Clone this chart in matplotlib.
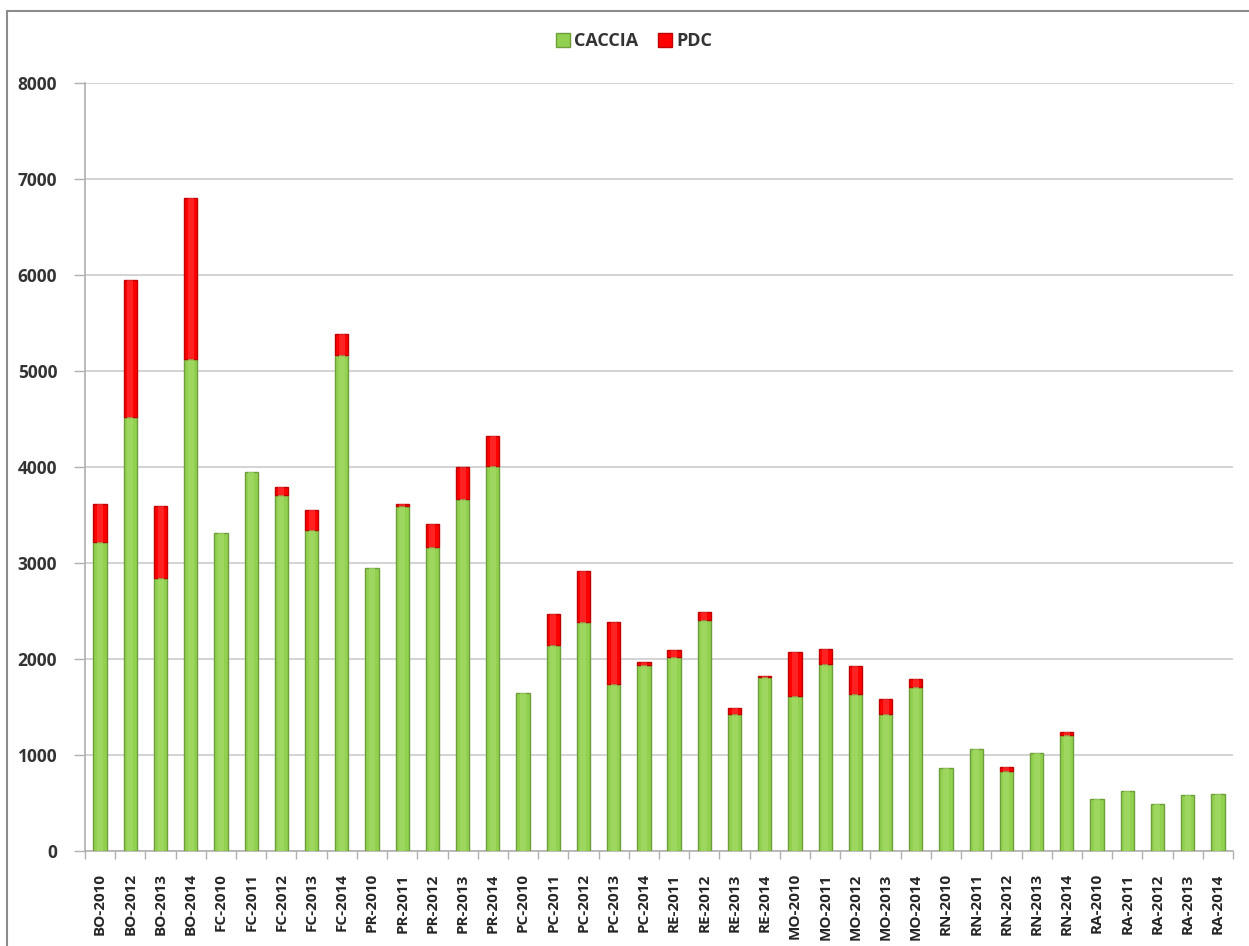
import matplotlib
matplotlib.use("Agg")
import matplotlib.pyplot as plt
from matplotlib.patches import Rectangle
import numpy as np

plt.rcParams['font.family'] = ['Open Sans', 'DejaVu Sans']

categories = [
    "BO-2010", "BO-2012", "BO-2013", "BO-2014",
    "FC-2010", "FC-2011", "FC-2012", "FC-2013", "FC-2014",
    "PR-2010", "PR-2011", "PR-2012", "PR-2013", "PR-2014",
    "PC-2010", "PC-2011", "PC-2012", "PC-2013", "PC-2014",
    "RE-2011", "RE-2012", "RE-2013", "RE-2014",
    "MO-2010", "MO-2011", "MO-2012", "MO-2013", "MO-2014",
    "RN-2010", "RN-2011", "RN-2012", "RN-2013", "RN-2014",
    "RA-2010", "RA-2011", "RA-2012", "RA-2013", "RA-2014",
]

caccia = [
    3220, 4520, 2840, 5130,
    3310, 3945, 3710, 3345, 5170,
    2950, 3590, 3170, 3670, 4015,
    1645, 2145, 2390, 1740, 1935,
    2020, 2410, 1428, 1810,
    1618, 1945, 1635, 1425, 1712,
    860, 1060, 836, 1024, 1205,
    538, 628, 493, 583, 594,
]

pdc = [
    392, 1425, 757, 1670,
    0, 0, 80, 210, 212,
    0, 28, 235, 325, 307,
    0, 322, 530, 650, 30,
    72, 78, 60, 14,
    450, 160, 290, 163, 84,
    0, 0, 42, 0, 35,
    0, 0, 0, 0, 0,
]

y_ticks = [0, 1000, 2000, 3000, 4000, 5000, 6000, 7000, 8000]

green = "#92D050"
green_edge = "#6E9E3A"
red = "#FF0000"
red_edge = "#C00000"
text_col = "#333333"

fig = plt.figure(figsize=(12.49, 9.46), dpi=100)
ax = fig.add_axes([85 / 1249, 1 - 851 / 946, (1233 - 85) / 1249, (851 - 83) / 946])

x = np.arange(len(categories))
caccia_arr = np.array(caccia, dtype=float)
pdc_arr = np.array(pdc, dtype=float)
has_pdc = pdc_arr > 0
w = 0.44

ax.bar(x, caccia_arr, width=w, color=green, edgecolor=green_edge,
       linewidth=1.0, label="CACCIA", zorder=3)
ax.bar(x[has_pdc], pdc_arr[has_pdc], width=w, bottom=caccia_arr[has_pdc],
       color=red, edgecolor=red_edge, linewidth=1.0, label="PDC", zorder=3)

# soft highlight along the middle of each bar for a rounded look
ax.bar(x, caccia_arr, width=w * 0.45, color="#A6DC6C", linewidth=0,
       zorder=4, alpha=0.6)
ax.bar(x[has_pdc], pdc_arr[has_pdc], width=w * 0.45,
       bottom=caccia_arr[has_pdc], color="#FF3A3A", linewidth=0,
       zorder=4, alpha=0.6)

ax.set_xlim(-0.5, len(categories) - 0.5)
ax.set_ylim(0, 8000)
ax.set_yticks(y_ticks)
ax.set_yticklabels([str(v) for v in y_ticks], fontsize=12.5,
                   fontweight="bold", color=text_col)
ax.yaxis.grid(True, color="#D0D0D0", linewidth=1.3, zorder=0)
ax.set_axisbelow(True)

ax.set_xticks(x)
ax.set_xticklabels(categories, rotation=90, fontsize=11,
                   fontweight="bold", color="#262626")
ax.tick_params(axis="x", length=0, pad=16)
ax.set_xticks(np.arange(-0.5, len(categories), 1.0), minor=True)
ax.tick_params(axis="x", which="minor", length=6, color="#B0B0B0", width=1)
ax.tick_params(axis="y", length=8, color="#B0B0B0", width=1, pad=12)

for side in ("top", "right"):
    ax.spines[side].set_visible(False)
for side in ("left", "bottom"):
    ax.spines[side].set_color("#B0B0B0")
    ax.spines[side].set_linewidth(1.2)

leg = fig.legend(loc="center", bbox_to_anchor=(634 / 1249, 1 - 41 / 946),
                 ncol=2, frameon=False, handlelength=0.8, handleheight=0.8,
                 handletextpad=0.2, columnspacing=1.1,
                 prop={"size": 13, "weight": "bold"})
for t in leg.get_texts():
    t.set_color(text_col)

# outer chart frame
fig.patches.append(Rectangle((7 / 1249, -0.05), 1.1, 1 - 11 / 946 + 0.05,
                             transform=fig.transFigure, fill=False,
                             edgecolor="#8C8C8C", linewidth=1.5))

fig.savefig("out.png", dpi=100)
